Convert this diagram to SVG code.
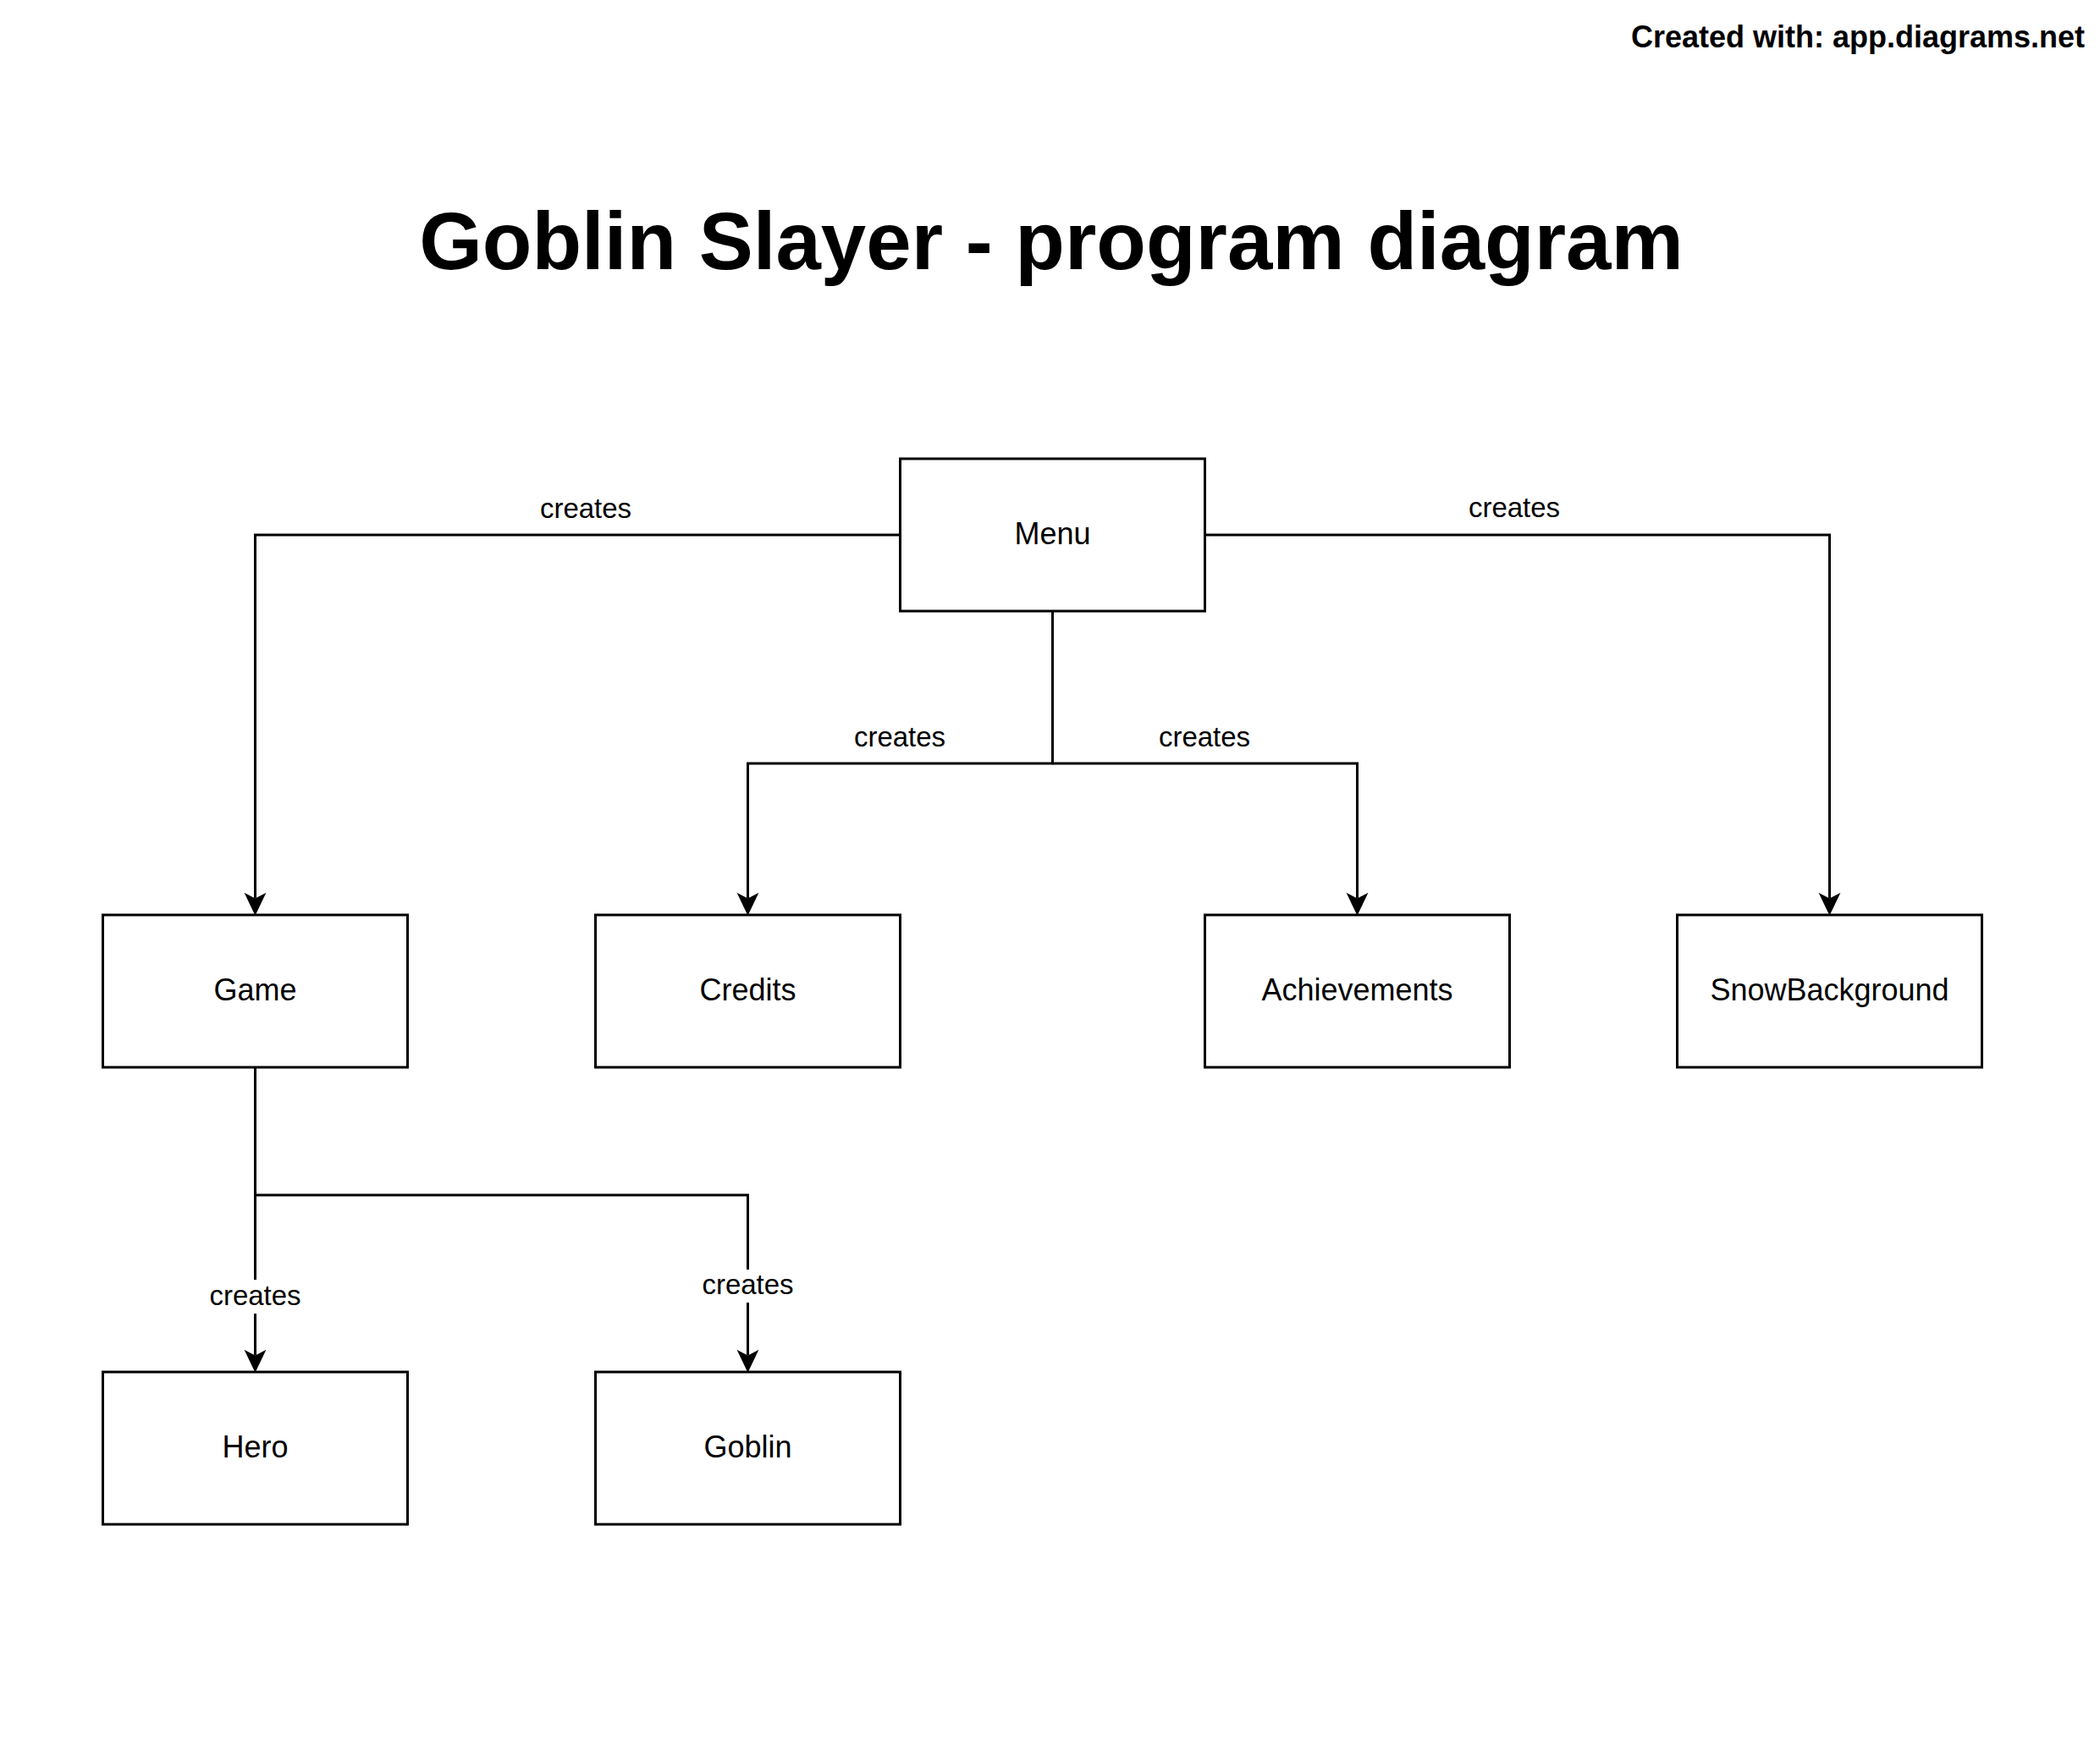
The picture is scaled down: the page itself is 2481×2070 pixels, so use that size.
<svg xmlns="http://www.w3.org/2000/svg" width="2481" height="2070" viewBox="0 0 2481 2070">
  <style>
    .box { fill: #ffffff; stroke: #000000; stroke-width: 3; }
    .lbl { font-family: "Liberation Sans", Arial, sans-serif; font-size: 36px; fill: #000000; text-anchor: middle; }
    .elbl { font-family: "Liberation Sans", Arial, sans-serif; font-size: 33px; fill: #000000; text-anchor: middle; }
    .edge { fill: none; stroke: #000000; stroke-width: 3; marker-end: url(#arrow); }
    .bg { fill: #ffffff; }
  </style>
  <defs>
    <marker id="arrow" markerUnits="userSpaceOnUse" markerWidth="30" markerHeight="30" viewBox="-1 -14 29 28" refX="6.5" refY="0" orient="auto">
      <path d="M26,0 L0,-12.5 L6.5,0 L0,12.5 Z" fill="#000000"/>
    </marker>
  </defs>
  <rect width="2481" height="2070" fill="#ffffff"/>
  <text x="2463" y="56" font-family="Liberation Sans, Arial, sans-serif" font-size="36" font-weight="bold" text-anchor="end">Created with: app.diagrams.net</text>
  <text x="1242" y="318" font-family="Liberation Sans, Arial, sans-serif" font-size="96" font-weight="bold" text-anchor="middle">Goblin Slayer - program diagram</text>

  <g id="connectors">
    <path class="edge" d="M1063.5,632 H301.5 V1061.5"/>
    <path class="edge" d="M1423.5,632 H2161.5 V1061.5"/>
    <path class="edge" d="M1243.5,722 V902 H883.5 V1061.5"/>
    <path class="edge" d="M1243.5,902 H1603.5 V1061.5"/>
    <path class="edge" d="M301.5,1261 V1601.5"/>
    <path class="edge" d="M301.5,1412 H883.5 V1601.5"/>
    <text class="elbl" x="692" y="612">creates</text>
    <text class="elbl" x="1789" y="611">creates</text>
    <text class="elbl" x="1063" y="882">creates</text>
    <text class="elbl" x="1423" y="882">creates</text>
    <rect class="bg" x="246" y="1512" width="111" height="40"/>
    <text class="elbl" x="301.5" y="1542">creates</text>
    <rect class="bg" x="828" y="1500" width="111" height="39"/>
    <text class="elbl" x="883.5" y="1529">creates</text>
  </g>

  <g id="menu">
    <rect class="box" x="1063.5" y="542" width="360" height="180"/>
    <text class="lbl" x="1243.5" y="643">Menu</text>
  </g>
  <g id="game">
    <rect class="box" x="121.5" y="1081" width="360" height="180"/>
    <text class="lbl" x="301.5" y="1182">Game</text>
  </g>
  <g id="credits">
    <rect class="box" x="703.5" y="1081" width="360" height="180"/>
    <text class="lbl" x="883.5" y="1182">Credits</text>
  </g>
  <g id="achievements">
    <rect class="box" x="1423.5" y="1081" width="360" height="180"/>
    <text class="lbl" x="1603.5" y="1182">Achievements</text>
  </g>
  <g id="snowbackground">
    <rect class="box" x="1981.5" y="1081" width="360" height="180"/>
    <text class="lbl" x="2161.5" y="1182">SnowBackground</text>
  </g>
  <g id="hero">
    <rect class="box" x="121.5" y="1621" width="360" height="180"/>
    <text class="lbl" x="301.5" y="1722">Hero</text>
  </g>
  <g id="goblin">
    <rect class="box" x="703.5" y="1621" width="360" height="180"/>
    <text class="lbl" x="883.5" y="1722">Goblin</text>
  </g>
</svg>
